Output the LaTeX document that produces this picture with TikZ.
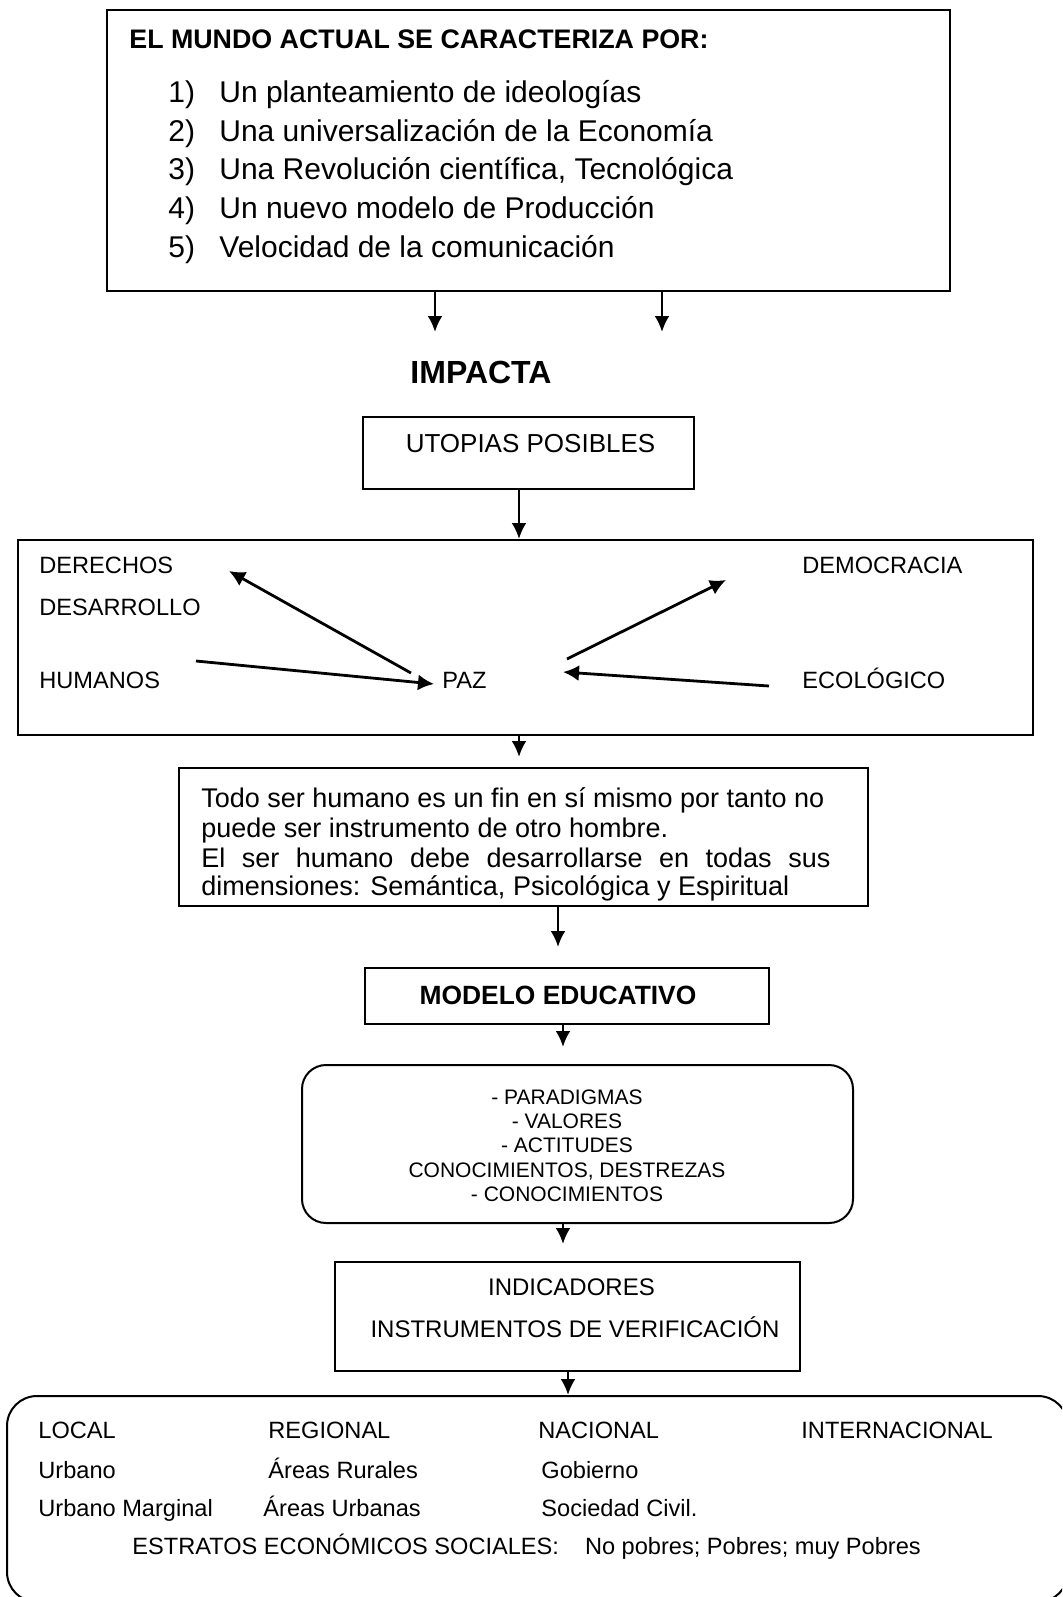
\documentclass[tikz,border=0pt]{standalone}
\usepackage{fontspec}
\setmainfont{Liberation Sans}
\usetikzlibrary{arrows.meta,fit}
\newcommand{\fsz}[1]{\fontsize{#1pt}{#1pt}\selectfont}
\begin{document}
\begin{tikzpicture}[x=0.5pt,y=-0.5pt,
  box/.style={draw, line width=1pt, inner sep=0pt},
  rbox/.style={draw, line width=1pt, inner sep=0pt, rounded corners=12pt},
  arr/.style={line width=1.4pt, -{Latex[length=8pt,width=7.5pt]}},
  thick arr/.style={line width=1.4pt, -{Latex[length=8pt,width=8pt]}},
  txt/.style={inner sep=0pt, anchor=base west},
  ctxt/.style={inner sep=0pt, anchor=base}]
\useasboundingbox (0,0) rectangle (1062,1597);
\clip (0,0) rectangle (1062,1597);

% top box
\node[box, fit={(107,10)(950,291)}] (top) {};
\node[txt, font=\fsz{13.4}\bfseries] (title) at (129,48.5) {EL MUNDO ACTUAL SE CARACTERIZA POR:};
\foreach \n/\t/\y in {1/{Un planteamiento de ideologías}/102.5,
                     2/{Una universalización de la Economía}/141,
                     3/{Una Revolución científica, Tecnológica}/179.5,
                     4/{Un nuevo modelo de Producción}/218,
                     5/{Velocidad de la comunicación}/257}{
  \node[txt, font=\fsz{15}] (num\n) at (168,\y) {\n)};
  \node[txt, font=\fsz{15}] (item\n) at (219,\y) {\t};
}
\coordinate (i1) at (435,332);
\coordinate (i2) at (662,332);
\draw[arr] (top.south -| i1) -- (i1);
\draw[arr] (top.south -| i2) -- (i2);

\node[ctxt, font=\fsz{16}\bfseries] (imp) at (481,383.5) {IMPACTA};

% utopias
\node[box, fit={(363,417)(694,489)}] (utop) {};
\node[ctxt, font=\fsz{13}] (utopt) at (530.5,452) {UTOPIAS POSIBLES};

% box 2
\node[box, fit={(18,540)(1033,735)}] (box2) {};
\coordinate (k1) at (519,0);
\draw[arr] (utop.south -| k1) -- (box2.north -| k1);
\node[txt, font=\fsz{11.8}] (der) at (39,573.5) {DERECHOS};
\node[txt, font=\fsz{11.8}] (des) at (39,615.5) {DESARROLLO};
\node[txt, font=\fsz{11.8}] (hum) at (39,688.5) {HUMANOS};
\node[txt, font=\fsz{11.8}] (paz) at (442,688) {PAZ};
\node[txt, font=\fsz{11.8}] (dem) at (802,573.5) {DEMOCRACIA};
\node[txt, font=\fsz{11.8}] (eco) at (802,688.5) {ECOLÓGICO};
\coordinate (a1s) at (411,673); \coordinate (a1e) at (229,571);
\coordinate (a2s) at (196,661); \coordinate (a2e) at (434,684);
\coordinate (a3s) at (567,659); \coordinate (a3e) at (726,580);
\coordinate (a4s) at (769,686); \coordinate (a4e) at (563,672);
\draw[thick arr] (a1s) -- (a1e);
\draw[thick arr] (a2s) -- (a2e);
\draw[thick arr] (a3s) -- (a3e);
\draw[thick arr] (a4s) -- (a4e);

% box 3
\node[box, fit={(179,768)(868,906)}] (box3) {};
\draw[arr, shorten >=5pt] (box2.south -| k1) -- (box3.north -| k1);
\node[txt, font=\fsz{13.5}] (l1) at (201,807) {Todo ser humano es un fin en sí mismo por tanto no};
\node[txt, font=\fsz{13.5}] (l2) at (201,837) {puede ser instrumento de otro hombre.};
\node[txt, font=\fsz{13.5}] (l3) at (201,867) {\makebox[314.5pt][s]{El ser humano debe desarrollarse en todas sus}};
\node[txt, font=\fsz{13.5}] (l4) at (201,895) {dimensiones: Semántica, Psicológica y Espiritual};

% modelo educativo
\node[box, fit={(365,968)(769,1024)}] (mod) {};
\coordinate (k2) at (558,0);
\draw[arr, shorten >=10pt] (box3.south -| k2) -- (mod.north -| k2);
\node[ctxt, font=\fsz{13.2}\bfseries] (modt) at (558,1004.5) {MODELO EDUCATIVO};

% rounded box
\node[rbox, fit={(302,1065)(853,1223)}] (rnd) {};
\coordinate (k3) at (563,0);
\draw[arr, shorten >=8.5pt] (mod.south -| k3) -- (rnd.north -| k3);
\node[ctxt, font=\fsz{10.5}] (r1) at (567,1104.5) {- PARADIGMAS};
\node[ctxt, font=\fsz{10.5}] (r2) at (567,1128.5) {- VALORES};
\node[ctxt, font=\fsz{10.5}] (r3) at (567,1152.5) {- ACTITUDES};
\node[ctxt, font=\fsz{10.5}] (r4) at (567,1177) {CONOCIMIENTOS, DESTREZAS};
\node[ctxt, font=\fsz{10.5}] (r5) at (567,1201.5) {- CONOCIMIENTOS};

% indicadores
\node[box, fit={(335,1262)(800,1371)}] (ind) {};
\draw[arr, shorten >=8.5pt] (rnd.south -| k3) -- (ind.north -| k3);
\node[ctxt, font=\fsz{12}] (ind1) at (571.5,1295.5) {INDICADORES};
\node[ctxt, font=\fsz{12}] (ind2) at (575,1337) {INSTRUMENTOS DE VERIFICACIÓN};

% bottom box
\node[rbox, rounded corners=15pt, fit={(7,1396)(1068,1602)}] (bot) {};
\coordinate (k4) at (568,0);
\draw[arr] (ind.south -| k4) -- (bot.north -| k4);
\node[txt, font=\fsz{11.8}] (b11) at (38,1438.5) {LOCAL};
\node[txt, font=\fsz{11.8}] (b12) at (268,1438.5) {REGIONAL};
\node[txt, font=\fsz{11.8}] (b13) at (538,1438.5) {NACIONAL};
\node[txt, font=\fsz{11.8}] (b14) at (801,1438.5) {INTERNACIONAL};
\node[txt, font=\fsz{11.8}] (b21) at (38,1478.5) {Urbano};
\node[txt, font=\fsz{11.8}] (b22) at (268,1478.5) {Áreas Rurales};
\node[txt, font=\fsz{11.8}] (b23) at (541,1478.5) {Gobierno};
\node[txt, font=\fsz{11.8}] (b31) at (38,1516.5) {Urbano Marginal};
\node[txt, font=\fsz{11.8}] (b32) at (263,1516.5) {Áreas Urbanas};
\node[txt, font=\fsz{11.8}] (b33) at (541,1516.5) {Sociedad Civil.};
\node[txt, font=\fsz{11.8}] (b4) at (132,1554) {ESTRATOS ECONÓMICOS SOCIALES:\hspace{1.1em}No pobres; Pobres; muy Pobres};
\end{tikzpicture}
\end{document}
